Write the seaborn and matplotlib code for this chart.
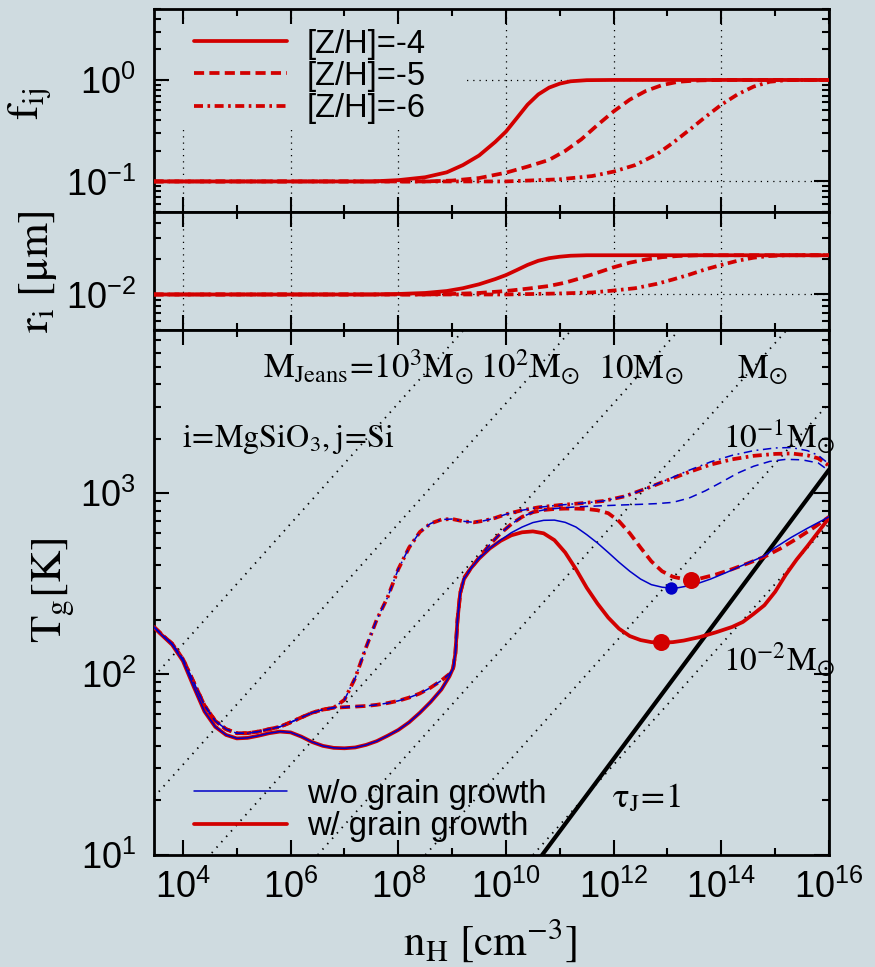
import numpy as np
import pandas as pd
import seaborn as sns
import matplotlib.pyplot as plt
from matplotlib.lines import Line2D
from matplotlib.patches import Rectangle
from matplotlib.ticker import LogLocator, FixedLocator, NullFormatter

# ---------------- data (log10 n_H) ----------------
# top panel: condensation efficiency f_ij
f_logn_m4 = [3.46, 7.5, 8.0, 8.5, 8.9, 9.2, 9.5, 9.8, 10.0, 10.2, 10.4, 10.6, 10.8, 11.0, 11.2, 11.5, 12.0, 16.0]
f_val_m4 = [0.1, 0.1, 0.103, 0.11, 0.123, 0.145, 0.18, 0.245, 0.31, 0.42, 0.57, 0.72, 0.84, 0.92, 0.97, 0.995, 1.0, 1.0]
f_logn_m5 = [3.46, 8.5, 9.0, 9.5, 10.0, 10.4, 10.8, 11.1, 11.4, 11.7, 12.0, 12.3, 12.6, 12.9, 13.2, 13.6, 14.0, 16.0]
f_val_m5 = [0.1, 0.1, 0.102, 0.108, 0.122, 0.14, 0.163, 0.2, 0.26, 0.36, 0.49, 0.64, 0.78, 0.89, 0.96, 0.99, 1.0, 1.0]
f_logn_m6 = [3.46, 10.0, 11.0, 11.6, 12.0, 12.4, 12.8, 13.1, 13.4, 13.7, 14.0, 14.3, 14.6, 14.9, 15.2, 15.5, 16.0]
f_val_m6 = [0.1, 0.1, 0.105, 0.113, 0.125, 0.145, 0.185, 0.24, 0.32, 0.43, 0.57, 0.72, 0.86, 0.96, 0.995, 1.0, 1.0]

# middle panel: grain radius r_i [micron]
r_val_m4 = [0.01, 0.01, 0.0101, 0.0103, 0.0107, 0.0113, 0.0122, 0.0135, 0.0146, 0.0161, 0.0178, 0.0193, 0.0203, 0.0209, 0.0213, 0.0215, 0.0215, 0.0215]
r_val_m5 = [0.01, 0.01, 0.0101, 0.0103, 0.0107, 0.0112, 0.0118, 0.0126, 0.0138, 0.0153, 0.0170, 0.0186, 0.0198, 0.0207, 0.0212, 0.0215, 0.0215, 0.0215]
r_val_m6 = [0.01, 0.01, 0.0102, 0.0104, 0.0108, 0.0113, 0.0123, 0.0134, 0.0147, 0.0163, 0.0178, 0.0193, 0.0205, 0.0212, 0.0215, 0.0215, 0.0215]

# bottom panel: gas temperature, low density part shared by w/ and w/o growth
t_logn_low_m4 = [3.46, 3.6, 3.8, 4.0, 4.2, 4.4, 4.6, 4.8, 5.0, 5.2, 5.4, 5.6, 5.8, 6.0, 6.2, 6.4, 6.6, 6.8, 7.0,
                 7.2, 7.4, 7.6, 7.8, 8.0, 8.2, 8.4, 8.6, 8.8, 8.95, 9.02, 9.06, 9.1, 9.15, 9.22, 9.35, 9.5, 9.7]
t_val_low_m4 = [182, 165, 145, 118, 85, 62, 51, 46, 44, 44.3, 45.5, 47, 48, 47.5, 45, 42, 40, 39, 38.8,
                39.2, 40.5, 42.5, 45.5, 49, 54, 61, 70, 82, 97, 108, 130, 200, 280, 335, 385, 435, 495]
t_logn_low_m5 = [3.46, 3.6, 3.8, 4.0, 4.2, 4.4, 4.6, 4.8, 5.0, 5.2, 5.4, 5.6, 5.8, 6.0, 6.2, 6.4, 6.6, 6.8]
t_val_low_m5 = [182, 166, 147, 121, 90, 67, 55, 49.5, 47, 47, 48, 49.5, 51, 54, 57.5, 61, 63.5, 65]

# [Z/H]=-4
t_logn_hi_m4_w = [9.9, 10.1, 10.3, 10.5, 10.7, 10.9, 11.1, 11.3, 11.5, 11.7, 11.9, 12.1, 12.3, 12.5, 12.7, 12.9,
                  13.1, 13.3, 13.6, 13.9, 14.2, 14.4, 14.6, 14.8, 15.0, 15.2, 15.4, 15.6, 15.8, 16.0]
t_val_hi_m4_w = [545, 585, 608, 615, 600, 550, 470, 380, 300, 245, 205, 178, 162, 154, 150, 149,
                 150, 153, 160, 170, 182, 194, 215, 240, 285, 355, 430, 510, 610, 730]
t_logn_hi_m4_wo = [9.9, 10.1, 10.3, 10.5, 10.7, 10.9, 11.1, 11.3, 11.5, 11.7, 11.9, 12.1, 12.3, 12.5, 12.7, 12.9,
                   13.05, 13.2, 13.5, 13.8, 14.1, 14.4, 14.8, 15.0, 15.3, 15.6, 16.0]
t_val_hi_m4_wo = [550, 605, 650, 688, 708, 710, 690, 650, 590, 530, 470, 415, 370, 335, 312, 302,
                  299, 300, 312, 335, 365, 400, 450, 500, 570, 640, 740]

# [Z/H]=-5
t_logn_mid_m5 = [7.0, 7.2, 7.4, 7.6, 7.8, 8.0, 8.2, 8.4, 8.6, 8.8, 8.95, 9.02, 9.06, 9.1, 9.15, 9.22, 9.35,
                 9.5, 9.7, 9.9, 10.1, 10.3, 10.5]
t_val_mid_m5 = [65.5, 66, 66.5, 67.5, 69, 71, 74, 78, 84, 92, 100, 108, 130, 200, 280, 340, 385,
                440, 520, 600, 675, 740, 785]
t_logn_hi_m5_w = [10.7, 10.9, 11.1, 11.3, 11.5, 11.7, 11.9, 12.1, 12.3, 12.5, 12.7, 12.9, 13.1, 13.3, 13.45,
                  13.6, 13.9, 14.2, 14.5, 14.8, 15.1, 15.4, 15.7, 16.0]
t_val_hi_m5_w = [808, 818, 822, 822, 818, 805, 775, 700, 600, 500, 420, 370, 345, 335, 333,
                 337, 355, 380, 410, 445, 495, 560, 640, 740]
t_logn_hi_m5_wo = [10.7, 10.9, 11.1, 11.3, 11.6, 11.9, 12.2, 12.5, 12.8, 13.1, 13.4, 13.7, 14.0, 14.3, 14.6,
                   14.9, 15.2, 15.5, 15.8, 16.0]
t_val_hi_m5_wo = [808, 822, 832, 840, 848, 855, 862, 868, 876, 890, 940, 1030, 1150, 1290, 1410,
                  1500, 1540, 1530, 1470, 1330]

# [Z/H]=-6
t_logn_mid_m6 = [7.0, 7.2, 7.4, 7.6, 7.8, 8.0, 8.2, 8.4, 8.6, 8.8, 9.0, 9.2, 9.4, 9.6, 9.8, 10.0, 10.3,
                 10.6, 11.0, 11.4, 11.8, 12.2, 12.6]
t_val_mid_m6 = [72, 95, 140, 200, 265, 380, 500, 610, 680, 715, 720, 700, 690, 705, 730, 765, 805,
                835, 860, 880, 905, 960, 1060]
t_logn_hi_m6 = [13.0, 13.4, 13.8, 14.2, 14.6, 15.0, 15.3, 15.6, 15.8, 16.0]
t_val_hi_m6_w = [1180, 1310, 1440, 1540, 1610, 1650, 1660, 1620, 1560, 1420]
t_val_hi_m6_wo = [1190, 1340, 1490, 1620, 1720, 1780, 1790, 1720, 1620, 1450]

# onset of dust growth (markers)
dot_logn_w = [12.88, 13.44]
dot_t_w = [150, 331]
dot_logn_wo = [13.07]
dot_t_wo = [299]

# Jeans-mass reference lines (T ~ M^(2/3) n^(1/3)) and tau_J = 1 line (T ~ n^0.4)
jeans_masses = [1e3, 1e2, 1e1, 1.0, 1e-1, 1e-2]
jeans_t0 = 0.0678
tauj_t0 = 10 ** -3.27
tauj_slope = 0.4

# ---------------- style ----------------
sns.set_theme(style='ticks')
bg = '#cfdbe0'
red = '#d20000'
blue = '#0000c8'
plt.rcParams.update({
    'font.family': ['Liberation Sans', 'DejaVu Sans'],
    'mathtext.fontset': 'stix',
    'axes.unicode_minus': False,
    'figure.facecolor': bg, 'axes.facecolor': bg, 'savefig.facecolor': bg,
    'axes.edgecolor': 'black', 'axes.linewidth': 2.0,
    'text.color': 'black', 'xtick.color': 'black', 'ytick.color': 'black',
    'xtick.labelsize': 26, 'ytick.labelsize': 26,
})

def fx(px):
    return px / 875.0

def fy(py):
    return 1 - py / 967.0

fig = plt.figure(figsize=(8.75, 9.67), dpi=100)
L, W = fx(154), (829 - 154) / 875.0
ax1 = fig.add_axes([L, fy(212), W, 203 / 967.0])
ax2 = fig.add_axes([L, fy(330), W, 118 / 967.0])
ax3 = fig.add_axes([L, fy(854.7), W, 524.7 / 967.0])

thick, thin = 2.7, 1.1
ls_dash = (0, (2.7, 1.4))
ls_dd = (0, (2.4, 1.2, 0.7, 1.2))
ls_dash_thin = (0, (5.5, 3.5))
ls_dd_thin = (0, (5.5, 3, 1.2, 3))

def line(ax, logn, vals, color, lw, ls, z=3):
    sns.lineplot(x=10 ** np.asarray(logn, float), y=vals, ax=ax, color=color, lw=lw,
                 linestyle=ls, sort=False, estimator=None, zorder=z)

# ---- top panel ----
line(ax1, f_logn_m4, f_val_m4, red, thick, '-')
line(ax1, f_logn_m5, f_val_m5, red, thick, ls_dash)
line(ax1, f_logn_m6, f_val_m6, red, thick, ls_dd)
ax1.set_ylim(0.05, 5)

# ---- middle panel ----
line(ax2, f_logn_m4, r_val_m4, red, thick, '-')
line(ax2, f_logn_m5, r_val_m5, red, thick, ls_dash)
line(ax2, f_logn_m6, r_val_m6, red, thick, ls_dd)
ax2.set_ylim(5e-3, 5e-2)

# ---- bottom panel ----
nline = np.array([2.9e3, 1e16])
for m in jeans_masses:
    sns.lineplot(x=nline, y=jeans_t0 * m ** (2 / 3) * nline ** (1 / 3), ax=ax3, color='black',
                 lw=1.3, linestyle=(0, (0.8, 3.2)), sort=False, estimator=None, zorder=1)
sns.lineplot(x=nline, y=tauj_t0 * nline ** tauj_slope, ax=ax3, color='black', lw=3.0,
             sort=False, estimator=None, zorder=2)

m4_w = (t_logn_low_m4 + t_logn_hi_m4_w, t_val_low_m4 + t_val_hi_m4_w)
m4_wo = (t_logn_low_m4 + t_logn_hi_m4_wo, t_val_low_m4 + t_val_hi_m4_wo)
m5_w = (t_logn_low_m5 + t_logn_mid_m5 + t_logn_hi_m5_w, t_val_low_m5 + t_val_mid_m5 + t_val_hi_m5_w)
m5_wo = (t_logn_low_m5 + t_logn_mid_m5 + t_logn_hi_m5_wo, t_val_low_m5 + t_val_mid_m5 + t_val_hi_m5_wo)
m6_w = (t_logn_low_m5 + t_logn_mid_m6 + t_logn_hi_m6, t_val_low_m5 + t_val_mid_m6 + t_val_hi_m6_w)
m6_wo = (t_logn_low_m5 + t_logn_mid_m6 + t_logn_hi_m6, t_val_low_m5 + t_val_mid_m6 + t_val_hi_m6_wo)

line(ax3, *m4_w, red, thick, '-')
line(ax3, *m5_w, red, thick, ls_dash)
line(ax3, *m6_w, red, thick, ls_dd)
line(ax3, *m4_wo, blue, thin, '-', z=4)
line(ax3, *m5_wo, blue, thin, ls_dash_thin, z=4)
line(ax3, *m6_wo, blue, thin, ls_dd_thin, z=4)

sns.scatterplot(x=10 ** np.array(dot_logn_w), y=dot_t_w, ax=ax3, color=red, s=150, linewidth=0, zorder=5)
sns.scatterplot(x=10 ** np.array(dot_logn_wo), y=dot_t_wo, ax=ax3, color=blue, s=80, linewidth=0, zorder=5)
ax3.set_ylim(10, 8000)

# ---- axes, ticks, grid ----
for ax in (ax1, ax2, ax3):
    ax.set_xscale('log')
    ax.set_yscale('log')
    ax.set_xlim(2.9e3, 1e16)
    ax.xaxis.set_major_locator(FixedLocator(10.0 ** np.arange(4, 17, 2)))
    ax.xaxis.set_minor_locator(FixedLocator(10.0 ** np.arange(5, 16, 2)))
    ax.yaxis.set_major_locator(LogLocator(base=10, numticks=20))
    ax.yaxis.set_minor_locator(LogLocator(base=10, subs=np.arange(2, 10), numticks=20))
    ax.yaxis.set_minor_formatter(NullFormatter())
    ax.xaxis.set_minor_formatter(NullFormatter())
    ax.tick_params(which='both', direction='in', top=True, right=True, width=1.5)
    ax.tick_params(which='major', length=10.5)
    ax.tick_params(which='minor', length=5)
    ax.tick_params(axis='y', which='major', pad=13)
    ax.tick_params(axis='x', which='major', pad=11)
    ax.set_xlabel('')
    ax.set_ylabel('')
    for s in ax.spines.values():
        s.set_linewidth(2.0)

for ax in (ax1, ax2):
    ax.tick_params(labelbottom=False)
    ax.grid(True, which='major', color='black', lw=0.9, linestyle=(0, (1, 4)))
    ax.set_axisbelow(True)

# opaque area behind the top legend
ax1.add_patch(Rectangle((0.025, 0.43), 0.435, 0.495, transform=ax1.transAxes,
                        facecolor=bg, edgecolor='none', zorder=1))

leg_kw = dict(frameon=False, fontsize=23.5, handlelength=2.85, handletextpad=0.6,
              labelspacing=0.04, borderpad=0.1, borderaxespad=0)
h_top = [Line2D([], [], color=red, lw=thick, linestyle=s) for s in ('-', ls_dash, ls_dd)]
ax1.legend(h_top, ['[Z/H]=-4', '[Z/H]=-5', '[Z/H]=-6'], loc='upper left',
           bbox_to_anchor=(0.055, 0.92), **leg_kw)

h_bot = [Line2D([], [], color=blue, lw=thin), Line2D([], [], color=red, lw=thick)]
ax3.legend(h_bot, ['w/o grain growth', 'w/ grain growth'], loc='lower left',
           bbox_to_anchor=(0.055, 0.018), **leg_kw)

# ---- labels and annotations ----
lab = dict(fontsize=32, ha='center', va='center', rotation=90)
fig.text(fx(30), fy(104), r'$\mathrm{f_{ij}}$', **lab)
fig.text(fx(38), fy(272), r'$\mathrm{r_{i}\ [μm]}$', **lab)
fig.text(fx(54), fy(590), r'$\mathrm{T_{g}[K]}$', **lab)
fig.text(fx(490), fy(940), r'$\mathrm{n_{H}\ [cm^{-3}]}$', fontsize=31, ha='center', va='center')

ann = dict(fontsize=25, ha='left', va='baseline')
fig.text(fx(263), fy(378), r'$\mathrm{M_{Jeans}\!=\!10^{3}M_{\odot}}$', **ann)
fig.text(fx(480), fy(378), r'$\mathrm{10^{2}M_{\odot}}$', **ann)
fig.text(fx(598), fy(378), r'$\mathrm{10M_{\odot}}$', **ann)
fig.text(fx(737), fy(378), r'$\mathrm{M_{\odot}}$', **ann)
fig.text(fx(723), fy(448), r'$\mathrm{10^{-1}M_{\odot}}$', fontsize=24, ha='left', va='baseline')
fig.text(fx(723), fy(670), r'$\mathrm{10^{-2}M_{\odot}}$', fontsize=24, ha='left', va='baseline')
fig.text(fx(182), fy(447), r'$\mathrm{i\!=\!MgSiO_{3},j\!=\!Si}$', fontsize=23, ha='left', va='baseline')
fig.text(fx(612), fy(807), r'$\mathrm{\tau_{J}\!=\!1}$', **ann)

fig.savefig('out.png', dpi=100)
